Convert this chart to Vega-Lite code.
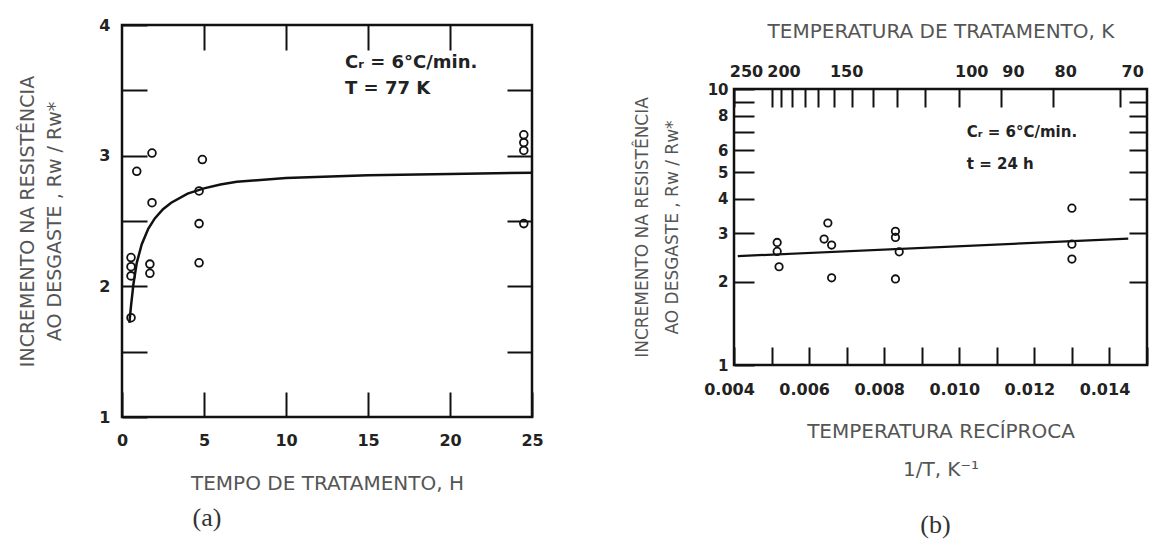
{
  "$schema": "https://vega.github.io/schema/vega-lite/v6.json",
  "background": "white",
  "padding": {"left": 17, "right": 4, "top": 15, "bottom": 0},
  "spacing": 86,
  "config": {
    "view": {"stroke": "#111", "strokeWidth": 2.5},
    "axis": {
      "domain": false,
      "grid": false,
      "labelOverlap": false,
      "labelFlush": false,
      "tickColor": "#111",
      "tickWidth": 2,
      "labelFont": "DejaVu Sans",
      "labelFontWeight": "bold",
      "labelColor": "#222",
      "titleFont": "DejaVu Sans",
      "titleFontWeight": "normal",
      "titleColor": "#555"
    },
    "title": {"font": "Liberation Serif", "fontWeight": "normal", "fontSize": 26, "color": "#333"}
  },
  "datasets": {
    "a_pts": [
      {"t": 1.83, "r": 3.02}, {"t": 0.9, "r": 2.88}, {"t": 1.83, "r": 2.64},
      {"t": 4.9, "r": 2.97}, {"t": 4.7, "r": 2.73}, {"t": 4.7, "r": 2.48}, {"t": 4.7, "r": 2.18},
      {"t": 1.7, "r": 2.17}, {"t": 1.7, "r": 2.1},
      {"t": 0.55, "r": 2.22}, {"t": 0.55, "r": 2.15}, {"t": 0.55, "r": 2.08}, {"t": 0.55, "r": 1.76},
      {"t": 24.5, "r": 3.16}, {"t": 24.5, "r": 3.1}, {"t": 24.5, "r": 3.04}, {"t": 24.5, "r": 2.48}
    ],
    "a_curve": [
      {"t": 0.45, "r": 1.72}, {"t": 0.55, "r": 1.85}, {"t": 0.7, "r": 2.02}, {"t": 0.9, "r": 2.18},
      {"t": 1.2, "r": 2.32}, {"t": 1.6, "r": 2.44}, {"t": 2.0, "r": 2.52}, {"t": 2.5, "r": 2.59},
      {"t": 3.0, "r": 2.64}, {"t": 4.0, "r": 2.71}, {"t": 5.0, "r": 2.75}, {"t": 6.0, "r": 2.78},
      {"t": 7.0, "r": 2.8}, {"t": 8.0, "r": 2.81}, {"t": 10, "r": 2.83}, {"t": 15, "r": 2.85},
      {"t": 20, "r": 2.86}, {"t": 25, "r": 2.87}
    ],
    "a_text": [
      {"t": 13.6, "r": 3.71, "label": "Cᵣ  =  6°C/min."},
      {"t": 13.6, "r": 3.51, "label": "T  =  77 K"}
    ],
    "b_pts": [
      {"x": 0.00515, "r": 2.78}, {"x": 0.00515, "r": 2.58}, {"x": 0.0052, "r": 2.27},
      {"x": 0.0065, "r": 3.27}, {"x": 0.0064, "r": 2.86}, {"x": 0.0066, "r": 2.72}, {"x": 0.0066, "r": 2.07},
      {"x": 0.0083, "r": 3.05}, {"x": 0.0083, "r": 2.9}, {"x": 0.0084, "r": 2.57}, {"x": 0.0083, "r": 2.05},
      {"x": 0.013, "r": 3.7}, {"x": 0.013, "r": 2.74}, {"x": 0.013, "r": 2.42}
    ],
    "b_line": [
      {"x": 0.0041, "r": 2.48}, {"x": 0.0145, "r": 2.87}
    ],
    "b_text": [
      {"x": 0.0102, "r": 6.98, "label": "Cᵣ  =  6°C/min."},
      {"x": 0.0102, "r": 5.35, "label": "t    =  24 h"}
    ],
    "empty": []
  },
  "hconcat": [
    {
      "width": 410,
      "height": 392,
      "title": {"text": "(a)", "orient": "bottom", "anchor": "middle", "frame": "group", "dx": -120, "offset": 12},
      "resolve": {"axis": {"x": "independent", "y": "independent"}},
      "layer": [
        {
          "data": {"name": "a_pts"},
          "mark": {"type": "point", "shape": "circle", "filled": false, "size": 60, "stroke": "#111", "strokeWidth": 1.8, "opacity": 1},
          "encoding": {
            "x": {"field": "t", "type": "quantitative",
                  "scale": {"domain": [0, 25], "nice": false, "zero": false},
                  "axis": {"values": [0, 5, 10, 15, 20, 25], "tickSize": -25, "labelPadding": 40, "labelFontSize": 16,
                           "title": "TEMPO DE TRATAMENTO, H", "titleFontSize": 20, "titlePadding": 25}},
            "y": {"field": "r", "type": "quantitative",
                  "scale": {"domain": [1, 4], "nice": false, "zero": false},
                  "axis": {"values": [1, 1.5, 2, 2.5, 3, 3.5, 4], "tickSize": -25, "labelPadding": 37, "labelFontSize": 16,
                           "labelExpr": "datum.value % 1 === 0 ? format(datum.value, 'd') : ''",
                           "title": ["INCREMENTO NA RESISTÊNCIA", "AO DESGASTE , Rw / Rw*"], "titleFontSize": 19,
                           "titleLineHeight": 27, "titlePadding": 34}}
          }
        },
        {
          "data": {"name": "a_curve"},
          "mark": {"type": "line", "color": "#111", "strokeWidth": 2.5},
          "encoding": {
            "x": {"field": "t", "type": "quantitative",
                  "axis": {"orient": "top", "values": [5, 10, 15, 20], "tickSize": -25, "labels": false, "title": null}},
            "y": {"field": "r", "type": "quantitative",
                  "axis": {"orient": "right", "values": [1.5, 2, 2.5, 3, 3.5], "tickSize": -25, "labels": false, "title": null}}
          }
        },
        {
          "data": {"name": "a_text"},
          "mark": {"type": "text", "align": "left", "baseline": "middle", "font": "DejaVu Sans", "fontWeight": "bold", "fontSize": 18, "color": "#222"},
          "encoding": {
            "x": {"field": "t", "type": "quantitative", "axis": null},
            "y": {"field": "r", "type": "quantitative", "axis": null},
            "text": {"field": "label"}
          }
        }
      ]
    },
    {
      "spacing": -7,
      "vconcat": [
        {
          "width": 1,
          "height": 1,
          "view": {"stroke": null, "fill": null},
          "data": {"name": "empty"},
          "mark": {"type": "point"},
          "encoding": {}
        },
        {
          "width": 413,
          "height": 276,
          "title": {"text": "(b)", "orient": "bottom", "anchor": "middle", "frame": "group", "dx": -5, "offset": 33},
          "resolve": {"axis": {"x": "independent", "y": "independent"}},
          "layer": [
            {
              "data": {"name": "b_pts"},
              "mark": {"type": "point", "shape": "circle", "filled": false, "size": 55, "stroke": "#111", "strokeWidth": 1.8, "opacity": 1},
              "encoding": {
                "x": {"field": "x", "type": "quantitative",
                      "scale": {"domain": [0.004, 0.015], "nice": false, "zero": false},
                      "axis": {"values": [0.004, 0.005, 0.006, 0.007, 0.008, 0.009, 0.01, 0.011, 0.012, 0.013, 0.014, 0.015],
                               "format": ".3f", "tickSize": -18, "labelPadding": 34, "labelFontSize": 16, "labelOffset": -5,
                               "labelExpr": "round(datum.value * 1000) % 2 === 0 && datum.value < 0.0145 ? datum.label : ''",
                               "title": ["TEMPERATURA RECÍPROCA", "1/T, K⁻¹"], "titleFontSize": 20, "titleLineHeight": 38, "titlePadding": 24}},
                "y": {"field": "r", "type": "quantitative",
                      "scale": {"type": "log", "domain": [1, 10], "nice": false, "zero": false},
                      "axis": {"values": [1, 2, 3, 4, 5, 6, 7, 8, 9, 10], "tickSize": -20, "labelPadding": 26, "labelFontSize": 15,
                               "labelExpr": "datum.value === 7 || datum.value === 9 ? '' : datum.label",
                               "title": ["INCREMENTO NA RESISTÊNCIA", "AO DESGASTE , Rw / Rw*"], "titleFontSize": 17,
                               "titleLineHeight": 30, "titlePadding": 26}}
              }
            },
            {
              "data": {"name": "b_line"},
              "mark": {"type": "line", "color": "#111", "strokeWidth": 2.2},
              "encoding": {
                "x": {"field": "x", "type": "quantitative",
                      "axis": {"orient": "top",
                               "values": [0.004, 0.005, 0.0052632, 0.0055556, 0.0058824, 0.00625, 0.0066667, 0.0071429, 0.0076923, 0.0083333, 0.0090909, 0.01, 0.0111111, 0.0125, 0.0142857],
                               "tickSize": -18, "labelPadding": 28, "labelFontSize": 16, "labelOffset": 12,
                               "labelExpr": "indexof([250, 200, 150, 100, 90, 80, 70], round(1 / datum.value)) >= 0 ? format(round(1 / datum.value), 'd') : ''",
                               "title": "TEMPERATURA DE TRATAMENTO, K", "titleFontSize": 20, "titlePadding": 22}},
                "y": {"field": "r", "type": "quantitative",
                      "axis": {"orient": "right", "values": [2, 3, 4, 5, 6, 7, 8, 9], "tickSize": -18, "labels": false, "title": null}}
              }
            },
            {
              "data": {"name": "b_text"},
              "mark": {"type": "text", "align": "left", "baseline": "middle", "font": "DejaVu Sans", "fontWeight": "bold", "fontSize": 15, "color": "#222"},
              "encoding": {
                "x": {"field": "x", "type": "quantitative", "axis": null},
                "y": {"field": "r", "type": "quantitative", "axis": null},
                "text": {"field": "label"}
              }
            }
          ]
        }
      ]
    }
  ]
}
